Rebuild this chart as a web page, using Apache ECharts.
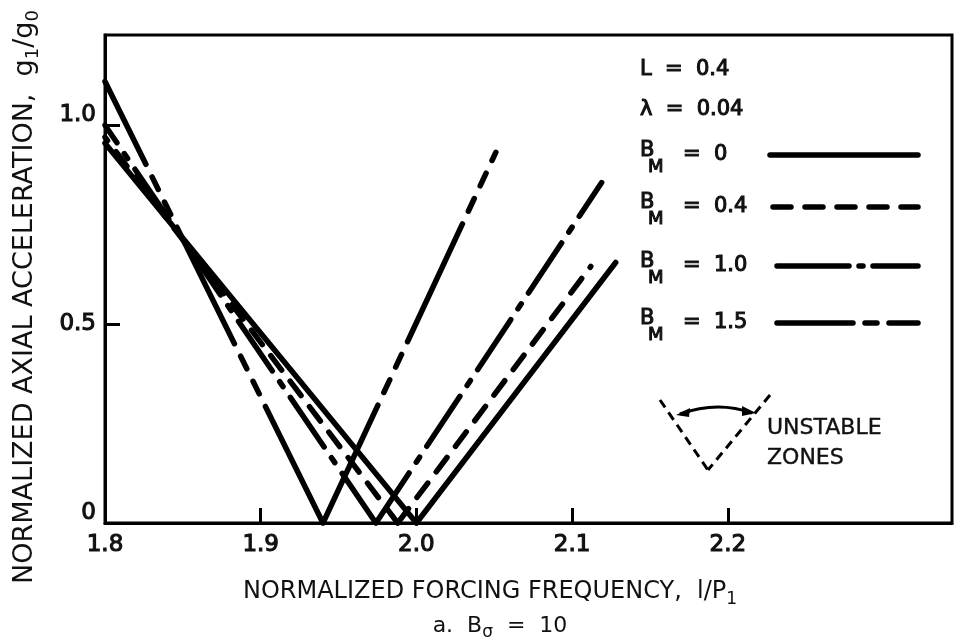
<!DOCTYPE html>
<html>
<head>
<meta charset="utf-8">
<script src="https://cdn.jsdelivr.net/npm/echarts@6/dist/echarts.min.js"></script>
<style>
html,body{margin:0;padding:0;background:#fff;}
#chart{width:954px;height:642px;}
</style>
</head>
<body>
<div id="chart"></div>
<script>
// ---- data ----
const xLabelValues = [1.8, 1.9, 2.0, 2.1, 2.2];
const xTickValues = [1.9, 2.0, 2.1, 2.2];
const yLabelValues = [0, 0.5, 1.0];
const yTickValues = [0.5, 1.0];
// each V: [left start, zero point, right end]
const bm0  = [[1.8, 0.955], [2.000, 0], [2.128, 0.655]];
const bm04 = [[1.8, 0.970], [1.988, 0], [2.112, 0.645]];
const bm10 = [[1.8, 1.000], [1.974, 0], [2.119, 0.856]];
const bm15 = [[1.8, 1.110], [1.940, 0], [2.051, 0.932]];
const seriesNames = ['B_M = 0', 'B_M = 0.4', 'B_M = 1.0', 'B_M = 1.5'];

const FONT = '"DejaVu Sans", sans-serif';
const INK = '#111';
const dashes = {
  solid: 'solid',
  dashed: [18, 14],
  dashDot: [60, 13, 6, 13],
  longShort: [130, 14, 14, 14, 14, 14]
};
function arms(v, name, dash) {
  const st = {width: 5.5, color: '#000', type: dash, cap: 'round', join: 'round'};
  return [
    {name: name, type: 'line', data: [v[1], v[0]], symbol: 'none', lineStyle: st, silent: true},
    {name: name, type: 'line', data: [v[1], v[2]], symbol: 'none', lineStyle: st, silent: true}
  ];
}
const series = [].concat(
  arms(bm0, seriesNames[0], dashes.solid),
  arms(bm04, seriesNames[1], dashes.dashed),
  arms(bm10, seriesNames[2], dashes.dashDot),
  arms(bm15, seriesNames[3], dashes.longShort)
);

const chart = echarts.init(document.getElementById('chart'), null, {renderer: 'canvas'});

function text(x, y, s, size, strokeW) {
  return {type: 'text', x: x, y: y, silent: true,
    style: {text: s, fill: INK, fontFamily: FONT, fontSize: size || 20,
      stroke: INK, lineWidth: strokeW == null ? 1.1 : strokeW,
      textVerticalAlign: 'middle'}};
}
function legendRow(y, val, dash) {
  return [
    text(640, y - 4, 'B', 21),
    text(648, y + 12, 'M', 18),
    text(683, y, '=  ' + val, 21),
    {type: 'line', silent: true, shape: {x1: dash.x1, y1: y, x2: 918, y2: y},
      style: {stroke: '#000', lineWidth: 5.5, lineCap: 'round', lineDash: dash.d}}
  ];
}

const graphic = [].concat(
  text(640, 70, 'L  =  0.4', 21),
  text(640, 110, 'λ  =  0.04', 21),
  legendRow(155, '0', {x1: 770, d: null}),
  legendRow(207, '0.4', {x1: 773, d: [18, 14]}),
  legendRow(266, '1.0', {x1: 777, d: [72, 10, 4, 10]}),
  legendRow(323, '1.5', {x1: 777, d: [76, 12, 12, 12]}),
  [
    {type: 'line', silent: true, shape: {x1: 660, y1: 400, x2: 708, y2: 470},
      style: {stroke: '#000', lineWidth: 3, lineDash: [9, 6]}},
    {type: 'line', silent: true, shape: {x1: 770, y1: 395, x2: 708, y2: 470},
      style: {stroke: '#000', lineWidth: 3, lineDash: [9, 6]}},
    {type: 'bezierCurve', silent: true, shape: {x1: 680, y1: 414, cpx1: 705, cpy1: 405, x2: 752, y2: 413, cpx2: 730, cpy2: 405},
      style: {stroke: '#000', lineWidth: 3, fill: null}},
    {type: 'polygon', silent: true, shape: {points: [[676, 415], [690, 408], [689, 417]]}, style: {fill: '#000'}},
    {type: 'polygon', silent: true, shape: {points: [[756, 413], [742, 406], [742, 416]]}, style: {fill: '#000'}},
    text(767, 428, 'UNSTABLE', 22, 0.4),
    text(767, 458, 'ZONES', 22, 0.4),
    {type: 'text', silent: true, x: 490, y: 592,
      style: {text: '{m|NORMALIZED FORCING FREQUENCY,  l/P}{s|1}', textAlign: 'center', textVerticalAlign: 'middle',
        rich: {m: {fontFamily: FONT, fontSize: 24, fill: INK, lineHeight: 32},
               s: {fontFamily: FONT, fontSize: 17, fill: INK, lineHeight: 17, verticalAlign: 'bottom'}}}},
    {type: 'text', silent: true, x: 500, y: 626,
      style: {text: '{m|a.  B}{s|σ}{m|  =  10}', textAlign: 'center', textVerticalAlign: 'middle',
        rich: {m: {fontFamily: FONT, fontSize: 22, fill: INK, lineHeight: 30},
               s: {fontFamily: FONT, fontSize: 17, fill: INK, lineHeight: 17, verticalAlign: 'bottom'}}}},
    {type: 'text', silent: true, x: 25, y: 297, rotation: Math.PI / 2,
      style: {text: '{m|NORMALIZED AXIAL ACCELERATION,  g}{s|1}{m|/g}{s|0}', textAlign: 'center', textVerticalAlign: 'middle',
        rich: {m: {fontFamily: FONT, fontSize: 27, fill: INK, lineHeight: 34},
               s: {fontFamily: FONT, fontSize: 18, fill: INK, lineHeight: 18, verticalAlign: 'bottom'}}}}
  ]
);

const labelStyle = {fontFamily: FONT, fontSize: 23, color: INK, textBorderColor: INK, textBorderWidth: 1.1};

chart.setOption({
  animation: false,
  backgroundColor: '#fff',
  grid: {left: 105, right: 2, top: 35, bottom: 119, show: true, borderColor: '#000', borderWidth: 3,
         containLabel: false, outerBoundsMode: 'none'},
  xAxis: {
    type: 'value', min: 1.8, max: 2.344, interval: 0.1,
    splitLine: {show: false},
    axisLine: {show: true, lineStyle: {color: '#000', width: 3}},
    axisTick: {show: true, inside: true, length: 15, lineStyle: {color: '#000', width: 3}, customValues: xTickValues},
    axisLabel: Object.assign({margin: 11, customValues: xLabelValues, formatter: v => v.toFixed(1)}, labelStyle)
  },
  yAxis: {
    type: 'value', min: 0, max: 1.227, interval: 0.5,
    splitLine: {show: false},
    axisLine: {show: true, lineStyle: {color: '#000', width: 3}},
    axisTick: {show: true, inside: true, length: 15, lineStyle: {color: '#000', width: 3}, customValues: yTickValues},
    axisLabel: Object.assign({margin: 9, customValues: yLabelValues,
      formatter: v => v === 0.5 ? '{n|0.5}' : '{u|' + (v === 0 ? '0' : v.toFixed(1)) + '}',
      rich: {
        n: Object.assign({}, labelStyle),
        u: Object.assign({padding: [0, 0, 20, 0]}, labelStyle)
      }}, labelStyle)
  },
  series: series,
  graphic: graphic
});
</script>
</body>
</html>
